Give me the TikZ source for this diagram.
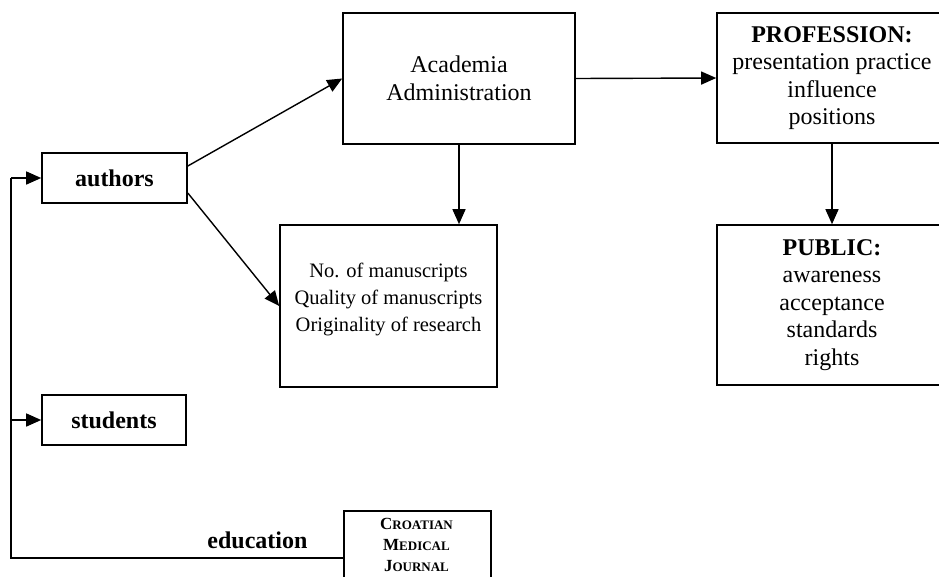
\documentclass[tikz,border=0pt]{standalone}
\usepackage{fontspec}
\setmainfont{Liberation Serif}
\usetikzlibrary{arrows.meta}
\newcommand\fakesc[2]{{\fontsize{17}{21}\selectfont #1}{\fontsize{13}{21}\selectfont #2}}
\begin{document}
\begin{tikzpicture}[x=1pt,y=-1pt,
  box/.style={draw, line width=1.6pt, align=center, inner sep=0pt,
    font=\fontsize{24}{27.5}\selectfont},
  lbl/.style={font=\fontsize{24}{27.5}\selectfont\bfseries},
  conn/.style={line width=1.4pt},
  arr/.style={line width=1.4pt, -{Triangle[length=15pt,width=13pt]}}]
\useasboundingbox (0,0) rectangle (939,576);
\clip (0,0) rectangle (939,576);
\fill[white] (0,0) rectangle (939,576);
% boxes
\node[box, minimum width=145pt, minimum height=50pt, font=\fontsize{24}{27.5}\selectfont\bfseries] (authors) at (114.5,178) {authors};
\node[box, minimum width=144pt, minimum height=50pt, font=\fontsize{24}{27.5}\selectfont\bfseries] (students) at (114,420) {students};
\node[box, minimum width=232pt, minimum height=131pt] (acad) at (459,78.5) {Academia\\Administration};
\node[box, minimum width=217pt, minimum height=162pt, font=\fontsize{20.5}{27}\selectfont] (qual) at (388.5,306) {No. of manuscripts\\Quality of manuscripts\\Originality of research\\[-10pt]\mbox{}};
\node[box, minimum width=230pt, minimum height=130pt] (prof) at (832,78) {\textbf{PROFESSION:}\\presentation practice\\influence\\positions};
\node[box, minimum width=230pt, minimum height=160pt] (public) at (832,305) {\textbf{PUBLIC:}\\awareness\\acceptance\\standards\\rights};
\node[box, anchor=north west, minimum width=147pt, minimum height=100pt] (cmj) at (343,510) {};
\node[anchor=north, align=center, font=\fontsize{17}{21}\selectfont\bfseries, inner sep=0pt] (cmjtext) at (416.5,518)
  {\fakesc{C}{ROATIAN}\\\fakesc{M}{EDICAL}\\\fakesc{J}{OURNAL}};
% label
\node[lbl, anchor=base, inner sep=0pt] (edu) at (257.5,548) {education};
% connectors
\draw[arr] ([yshift=12pt]authors.east) -- (acad.west);
\draw[arr] ([yshift=-15pt]authors.east) -- (qual.west);
\draw[arr] (acad.south) -- (acad.south |- qual.north);
\draw[arr] (acad.east) -- (prof.west);
\draw[arr] (prof.south) -- (public.north);
\coordinate (c1) at (11,558);
\draw[conn] (cmj.west |- c1) -- (c1) -- (c1 |- authors.west);
\draw[arr] (c1 |- authors.west) -- (authors.west);
\draw[arr] (c1 |- students.west) -- (students.west);
\end{tikzpicture}
\end{document}
